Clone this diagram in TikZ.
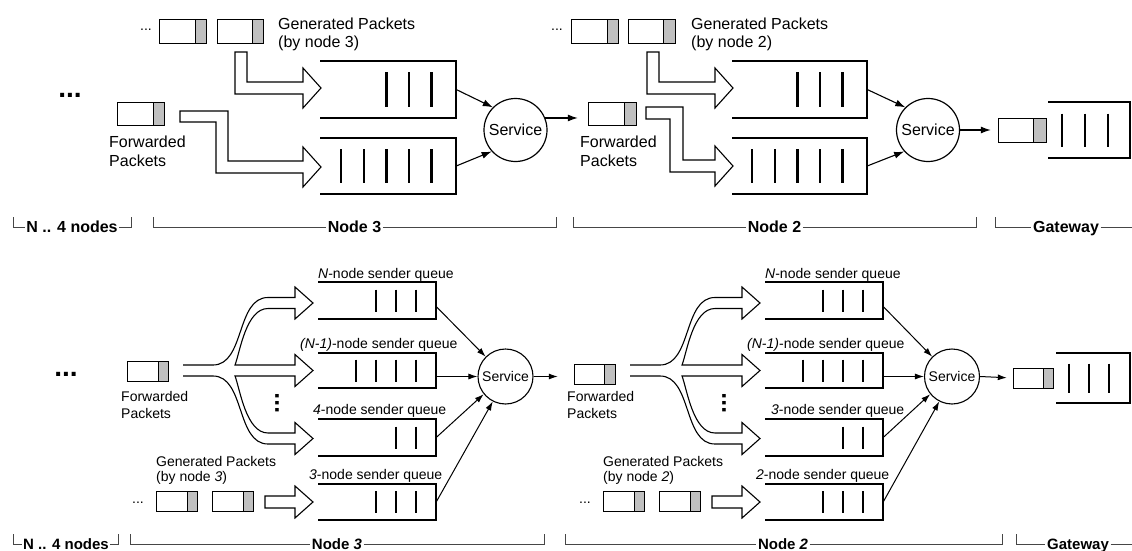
\documentclass[tikz,border=0pt]{standalone}
\usepackage{fontspec}
\setmainfont{Liberation Sans}
\usetikzlibrary{arrows.meta,fit,calc}
\definecolor{pktgrey}{RGB}{192,192,192}
\definecolor{brgrey}{RGB}{70,70,70}
\tikzset{
 txtT/.style={font=\fontsize{16}{18}\selectfont, inner sep=0pt},
 txtB/.style={font=\fontsize{14}{16}\selectfont, inner sep=0pt},
 pkt/.style={draw=black, line width=0.9pt},
 fat/.style={draw=black, fill=white, line width=1.1pt, line join=miter},
 conn/.style={line width=1.1pt, -{Latex[length=10pt,width=7pt]}},
 connB/.style={line width=1pt, -{Latex[length=9pt,width=6pt]}},
 svcT/.style={circle, draw, line width=1.2pt, minimum size=63pt, inner sep=0pt, font=\fontsize{16}{18}\selectfont},
 svcB/.style={circle, draw, line width=1.1pt, minimum size=55pt, inner sep=0pt, font=\fontsize{14}{16}\selectfont},
 brlbl/.style={font=\fontsize{16}{18}\selectfont\bfseries, inner sep=1.5pt, text height=11.5pt, text depth=0pt},
 brlblB/.style={font=\fontsize{15}{17}\selectfont\bfseries, inner sep=1.5pt, text height=10.8pt, text depth=0pt},
 brline/.style={draw=brgrey, line width=0.8pt},
 dotsbig/.style={font=\fontsize{28}{30}\selectfont\bfseries, inner sep=0pt},
 dotsvert/.style={font=\fontsize{24}{24}\selectfont\bfseries, inner sep=0pt, rotate=90},
}
\newcommand\mypacket[6]{%
  \draw[pkt, fill=white] (#2,#3) rectangle (#4-#6,#5);
  \draw[pkt, fill=pktgrey] (#4-#6,#3) rectangle (#4,#5);
  \node[fit={(#2,#3) (#4,#5)}, inner sep=0pt] (#1) {};
}
\newcommand\myqueue[6]{%
  \node[fit={(#2,#3) (#4,#5)}, inner sep=0pt] (#1) {};
  \draw[line width=\qlw, line join=miter] (#2,#3) -- (#4,#3) -- (#4,#5) -- (#2,#5);
  \foreach \k in {1,...,#6}{\draw[line width=\qlw] ({#4-\qoff-(\k-1)*\qsp},{(#3+#5)/2-\qhalf}) -- ++(0,{2*\qhalf});}
}
\newcommand\branchshape{%
 \draw[fat] (183,365) -- (213,365) .. controls (245,365) and (236,297.5) .. (268,297.5) -- (295,297.5) -- (295,287) -- (313,303) -- (295,319) -- (295,308.5) -- (268,308.5) .. controls (246,308.5) and (240,352) .. (235,365) -- (295,365) -- (295,354.5) -- (313,370.5) -- (295,386.5) -- (295,376) -- (235,376) .. controls (240,389) and (246,433) .. (268,433) -- (295,433) -- (295,422.5) -- (313,438.5) -- (295,454.5) -- (295,444) -- (268,444) .. controls (236,444) and (245,376) .. (213,376) -- (183,376);
}
\begin{document}
\begin{tikzpicture}[x=1pt,y=-1pt]
\useasboundingbox (0,0) rectangle (1132,551);
\fill[white] (0,0) rectangle (1132,551);

% ================= TOP ROW =================
% ---- Node 3 ----
\node[txtB, anchor=base] (dA3) at (146,31) {...};
\mypacket{gA3}{159}{19}{206}{43}{11}
\mypacket{gB3}{217}{19}{263}{43}{11}
\node[txtT, anchor=north west, align=left] (gt3) at (278,17.3) {Generated Packets\\(by node 3)};
\node[dotsbig, anchor=base] (bd1) at (70,97) {...};
\mypacket{fw3}{117}{102}{164}{125}{11}
\node[txtT, anchor=north west, align=left, font=\fontsize{16}{19}\selectfont] (fwt3) at (109,135.3) {Forwarded\\Packets};
\draw[fat] (235,52) -- (247,52) -- (247,82) -- (303,82) -- (303,68) -- (321,88) -- (303,108) -- (303,94) -- (235,94) -- cycle;
\draw[fat] (180,111) -- (228,111) -- (228,161) -- (303,161) -- (303,147) -- (321,167) -- (303,187) -- (303,173) -- (216,173) -- (216,122) -- (180,122) -- cycle;
\def\qlw{2.4pt}\def\qoff{24.5}\def\qsp{22.6}\def\qhalf{17}
\myqueue{q3a}{320}{61}{456}{118}{3}
\myqueue{q3b}{320}{138}{456}{194}{5}
\node[svcT] (s3) at (515.5,130) {Service};
\draw[conn] (q3a.east) -- (s3.135);
\draw[conn] (q3b.east) -- (s3.222);

% ---- Node 2 ----
\mypacket{fw2}{588}{102}{636}{125}{12}
\draw[conn, shorten >=10pt] (s3.22) -- (s3.22 -| fw2.west);
\node[txtT, anchor=north west, align=left, font=\fontsize{16}{19}\selectfont] (fwt2) at (580,135.3) {Forwarded\\Packets};
\node[txtB, anchor=base] (dA2) at (557,31) {...};
\mypacket{gA2}{571}{19}{618}{43}{11}
\mypacket{gB2}{628}{19}{675}{43}{12}
\node[txtT, anchor=north west, align=left] (gt2) at (691,17.3) {Generated Packets\\(by node 2)};
\draw[fat] (647,52) -- (659,52) -- (659,82) -- (715,82) -- (715,68) -- (733,88) -- (715,108) -- (715,94) -- (647,94) -- cycle;
\draw[fat] (646,107) -- (683,107) -- (683,160) -- (715,160) -- (715,146) -- (733,166) -- (715,186) -- (715,172) -- (670,172) -- (670,119) -- (646,119) -- cycle;
\myqueue{q2a}{732}{61}{867}{118}{3}
\myqueue{q2b}{732}{138}{867}{194}{5}
\node[svcT] (s2) at (928,130) {Service};
\draw[conn] (q2a.east) -- (s2.135);
\draw[conn] (q2b.east) -- (s2.222);

% ---- Gateway ----
\mypacket{gw1}{998}{118}{1046}{142}{13}
\draw[conn, shorten >=7pt] (s2.east) -- (gw1.west);
\def\qoff{22}\def\qsp{23}\def\qhalf{16.5}
\myqueue{qg1}{1048}{102}{1130}{158}{3}

% ---- brackets (top) ----
\node[brlbl] (b1) at (72,227) {N .. 4 nodes};
\draw[brline] (13,217) -- (13,227) -- (b1.west);
\draw[brline] (b1.east) -- (131,227) -- (131,217);
\node[brlbl] (b2) at (354.5,227) {Node 3};
\draw[brline] (153,217) -- (153,227) -- (b2.west);
\draw[brline] (b2.east) -- (556,227) -- (556,217);
\node[brlbl] (b3) at (774.5,227) {Node 2};
\draw[brline] (573,217) -- (573,227) -- (b3.west);
\draw[brline] (b3.east) -- (976,227) -- (976,217);
\node[brlbl] (b4) at (1066,227) {Gateway};
\draw[brline] (995,217) -- (995,227) -- (b4.west);
\draw[brline] (b4.east) -- (1140,227);

% ================= BOTTOM ROW =================
\node[dotsbig, anchor=base] (bd2) at (66,376) {...};
% ---- Node 3 ----
\mypacket{fb3}{127}{361}{168}{381}{10}
\node[txtB, anchor=north west, align=left, font=\fontsize{14}{17}\selectfont] (fbt3) at (121,390.8) {Forwarded\\Packets};
\branchshape
\node[dotsvert] (vd3) at (277,403) {...};
\def\qlw{2pt}\def\qoff{20}\def\qsp{20}\def\qhalf{11}
\myqueue{qN3}{318}{282}{436}{319}{3}
\myqueue{qM3}{318}{353}{436}{388}{4}
\myqueue{qF3}{318}{419}{436}{456}{2}
\myqueue{qT3}{318}{484}{436}{520}{3}
\node[txtB, anchor=base west] (lN3) at (318,278) {\textit{N}-node sender queue};
\node[txtB, anchor=base west] (lM3) at (300,348) {\textit{(N-1)}-node sender queue};
\node[txtB, anchor=base west] (lF3) at (313,414) {\textit{4}-node sender queue};
\node[txtB, anchor=base west] (lT3) at (309,479) {\textit{3}-node sender queue};
\node[txtB, anchor=north west, align=left, font=\fontsize{14}{15}\selectfont] (gtb3) at (156,456) {Generated Packets\\(by node \textit{3})};
\node[txtB, anchor=base] (dB3) at (138,503) {...};
\mypacket{gC3}{156}{491}{197}{511}{10}
\mypacket{gD3}{212}{491}{253}{511}{10}
\draw[fat] (265,496) -- (295,496) -- (295,486) -- (313,502) -- (295,518) -- (295,508) -- (265,508) -- cycle;
\node[svcB] (s3b) at (505.5,376.5) {Service};
\draw[connB] ([yshift=-6pt]qN3.east) -- (s3b.135);
\draw[connB] (s3b.west -| qM3.east) -- (s3b.west);
\draw[connB] (qF3.east) -- (s3b.219);
\draw[connB] (qT3.east) -- (s3b.243);

% ---- Node 2 ----
\mypacket{fb2}{574}{364}{615}{384}{11}
\draw[connB, shorten >=16pt] (s3b.east) -- (s3b.east -| fb2.west);
\node[txtB, anchor=north west, align=left, font=\fontsize{14}{17}\selectfont] (fbt2) at (567,390.8) {Forwarded\\Packets};
\begin{scope}[shift={(447,0)}]
\branchshape
\end{scope}
\node[dotsvert] (vd2) at (724,403) {...};
\myqueue{qN2}{765}{282}{883}{319}{3}
\myqueue{qM2}{765}{353}{883}{388}{4}
\myqueue{qF2}{765}{419}{883}{456}{2}
\myqueue{qT2}{765}{484}{883}{520}{3}
\node[txtB, anchor=base west] (lN2) at (765,278) {\textit{N}-node sender queue};
\node[txtB, anchor=base west] (lM2) at (747,348) {\textit{(N-1)}-node sender queue};
\node[txtB, anchor=base west] (lF2) at (771,414) {\textit{3}-node sender queue};
\node[txtB, anchor=base west] (lT2) at (756,479) {\textit{2}-node sender queue};
\node[txtB, anchor=north west, align=left, font=\fontsize{14}{15}\selectfont] (gtb2) at (603,456) {Generated Packets\\(by node \textit{2})};
\node[txtB, anchor=base] (dB2) at (585,503) {...};
\mypacket{gC2}{603}{491}{644}{511}{10}
\mypacket{gD2}{659}{491}{700}{511}{10}
\draw[fat] (712,496) -- (742,496) -- (742,486) -- (760,502) -- (742,518) -- (742,508) -- (712,508) -- cycle;
\node[svcB] (s2b) at (952,376.5) {Service};
\draw[connB] ([yshift=-6pt]qN2.east) -- (s2b.135);
\draw[connB] (s2b.west -| qM2.east) -- (s2b.west);
\draw[connB] (qF2.east) -- (s2b.219);
\draw[connB] (qT2.east) -- (s2b.243);

% ---- Gateway ----
\mypacket{gw2}{1013}{368}{1053}{388}{10}
\draw[connB, shorten >=6pt] (s2b.east) -- (gw2.west);
\def\qoff{21}\def\qsp{20}\def\qhalf{14.5}
\myqueue{qg2}{1056}{353}{1130}{403}{3}

% ---- brackets (bottom) ----
\node[brlblB] (c1) at (66,544) {N .. 4 nodes};
\draw[brline] (13,534) -- (13,544) -- (c1.west);
\draw[brline] (c1.east) -- (118,544) -- (118,534);
\node[brlblB] (c2) at (337,544) {Node \textit{3}};
\draw[brline] (130,534) -- (130,544) -- (c2.west);
\draw[brline] (c2.east) -- (544,544) -- (544,534);
\node[brlblB] (c3) at (783,544) {Node \textit{2}};
\draw[brline] (565,534) -- (565,544) -- (c3.west);
\draw[brline] (c3.east) -- (1002,544) -- (1002,534);
\node[brlblB] (c4) at (1078,544) {Gateway};
\draw[brline] (1016,534) -- (1016,544) -- (c4.west);
\draw[brline] (c4.east) -- (1140,544);
\end{tikzpicture}
\end{document}
